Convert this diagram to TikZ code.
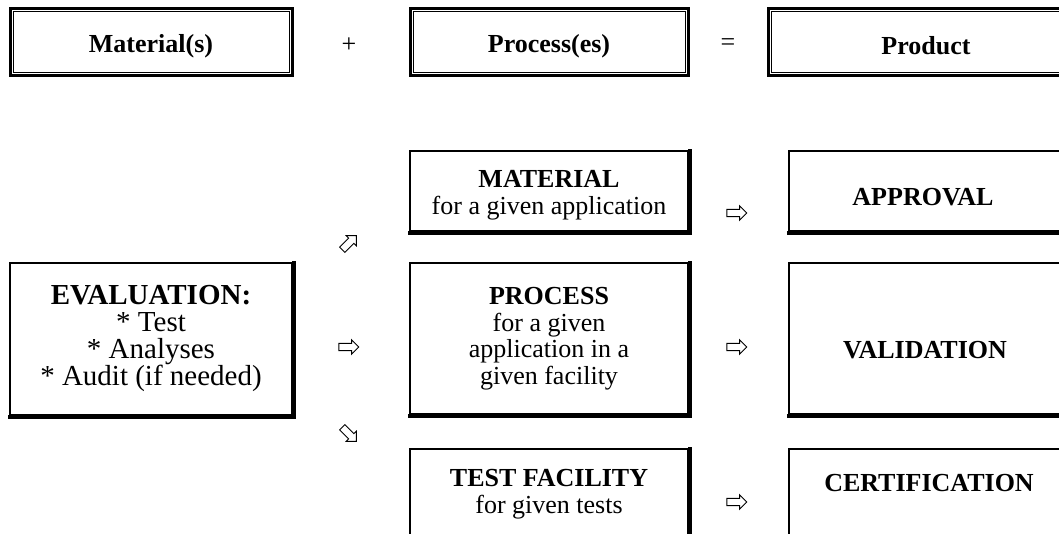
\documentclass[tikz,border=0pt]{standalone}
\usepackage{fontspec}
\setmainfont{Liberation Serif}
\usetikzlibrary{shapes.arrows}
\begin{document}
\begin{tikzpicture}[x=1pt,y=-1pt,
  every node/.style={font=\fontsize{26}{26.5}\selectfont},
  dbl/.style={draw, line width=3pt, inner sep=0pt},
  innerline/.style={draw, line width=1pt},
  sbox/.style={draw, line width=2pt, inner sep=0pt, align=center},
  shline/.style={line width=4pt},
  txt/.style={align=center, inner sep=0pt},
  btxt/.style={txt, font=\fontsize{26}{26.5}\selectfont\bfseries},
  warrow/.style={single arrow, draw, line width=0.9pt, minimum height=20pt, inner sep=3.2pt, single arrow head extend=3.6pt, fill=white}
]
\useasboundingbox (0,0) rectangle (1059,533);
\clip (0,0) rectangle (1059,533);

% top row
\node[dbl, minimum width=282pt, minimum height=67pt] (mats) at (151,41.5) {};
\node[dbl, minimum width=278pt, minimum height=67pt] (procs) at (549,41.5) {};
\node[dbl, minimum width=312pt, minimum height=67pt] (prod) at (924,41.5) {};
\foreach \n in {mats,procs,prod}
  \draw[innerline] ([shift={(4.5,4.5)}]\n.north west) rectangle ([shift={(-4.5,-4.5)}]\n.south east);
\node[btxt] (matst) at (151,46) {Material(s)};
\node[btxt] (procst) at (549,46) {Process(es)};
\node[btxt] (prodt) at (926,46) {Product};
\node (plus) at (349,45) {+};
\node (eq) at (728,45) {=};

% middle column
\node[sbox, minimum width=278pt, minimum height=80pt] (material) at (549,191) {};
\node[txt] (materialt) at (549,195) {\textbf{MATERIAL}\\for a given application};
\node[sbox, minimum width=278pt, minimum height=151pt] (process) at (549,338.5)
  {\textbf{PROCESS}\\for a given\\application in a\\given facility};
\node[sbox, minimum width=278pt, minimum height=120pt, anchor=north] (testfac) at (549,448) {};
\node[txt] (testfact) at (549,494) {\textbf{TEST FACILITY}\\for given tests};

% left box
\node[sbox, minimum width=282pt, minimum height=152pt] (eval) at (151,339) {};
\node[txt, font=\fontsize{29}{27}\selectfont] (evalt) at (151,338)
  {\textbf{EVALUATION:}\\* Test\\* Analyses\\* Audit (if needed)};

% right column
\node[sbox, minimum width=300pt, minimum height=80pt, anchor=west] (appr) at (788,191) {};
\node[btxt] (apprt) at (923,197) {APPROVAL};
\node[sbox, minimum width=300pt, minimum height=151pt, anchor=west] (valid) at (788,338.5) {};
\node[btxt] (validt) at (925,350) {VALIDATION};
\node[sbox, minimum width=300pt, minimum height=120pt, anchor=north west] (cert) at (788,448) {};
\node[btxt] (certt) at (929,483) {CERTIFICATION};

% heavier right and bottom edges
\foreach \n in {material,process,testfac,eval,appr,valid,cert}
  \draw[shline] ([shift={(-1,1)}]\n.south west) -- ([shift={(1,1)}]\n.south east) -- ([shift={(1,-1)}]\n.north east);

% white arrows
\node[warrow, rotate=45] (aup) at (348,244) {};
\node[warrow] (amid) at (347,347) {};
\node[warrow, rotate=-45] (adown) at (348,433) {};
\node[warrow] (r1) at (735,213) {};
\node[warrow] (r2) at (735,347) {};
\node[warrow] (r3) at (735,502) {};
\end{tikzpicture}
\end{document}
